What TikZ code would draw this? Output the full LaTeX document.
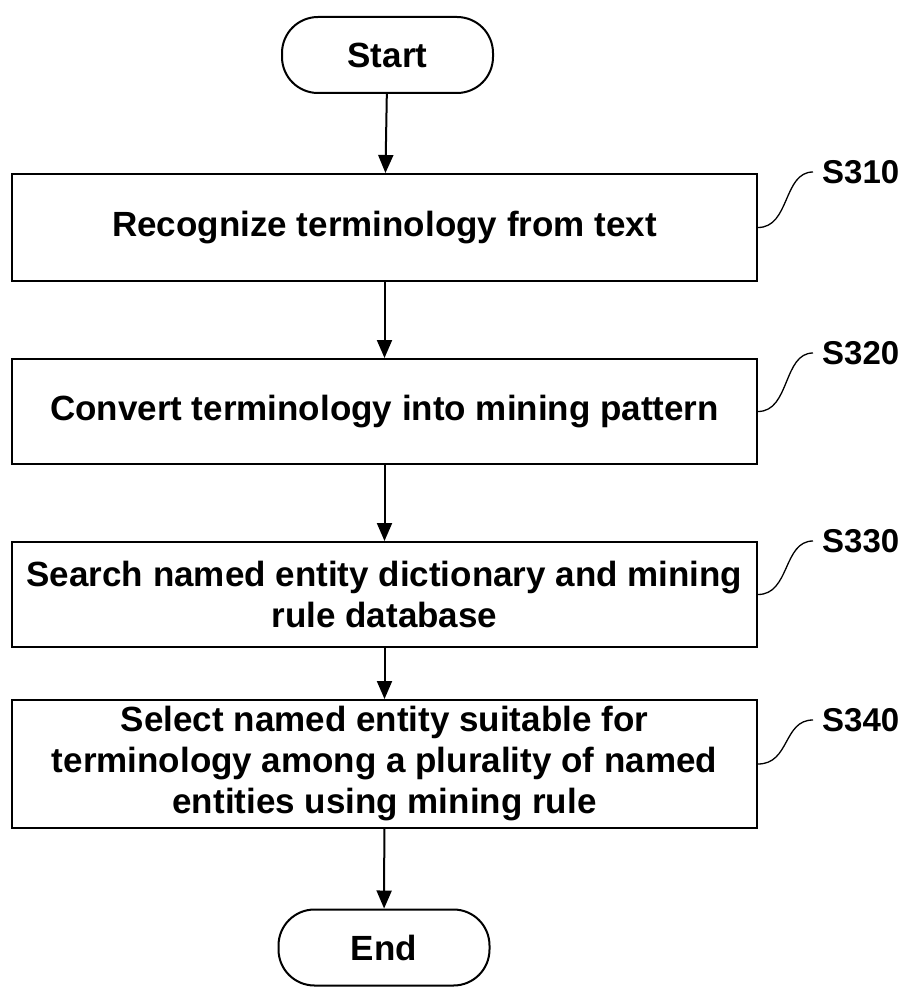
\documentclass[tikz,border=0pt]{standalone}
\usepackage{fontspec}
\setmainfont{Liberation Sans}
\usetikzlibrary{arrows.meta}
\begin{document}
\begin{tikzpicture}[x=1pt,y=-1pt,
  box/.style={draw, line width=2pt, minimum width=745pt, inner sep=0pt, align=center,
    font=\fontsize{35}{41}\selectfont\bfseries},
  term/.style={draw, line width=2pt, rounded corners=36pt, minimum width=211pt,
    minimum height=76pt, inner sep=0pt, font=\fontsize{35}{41}\selectfont\bfseries},
  arr/.style={-{Triangle[length=18pt,width=15pt]}, line width=2pt},
  lbl/.style={font=\fontsize{33}{40}\selectfont\bfseries, anchor=west, inner sep=0pt},
  sq/.style={line width=1.3pt}]
\useasboundingbox (0,0) rectangle (909,987);
\node[term] (start) at (387.5,55) {Start};
\node[box, minimum height=107pt] (s310) at (384.5,227.5) {Recognize terminology from text};
\node[box, minimum height=105pt] (s320) at (384.5,411.5) {Convert terminology into mining pattern};
\node[box, minimum height=105pt] (s330) at (384.5,594.5) {Search named entity dictionary and mining\\rule database};
\node[box, minimum height=128pt] (s340) at (384.5,764) {Select named entity suitable for\\terminology among a plurality of named\\entities using mining rule};
\node[term] (end) at (384,947.5) {End};
\node[lbl] (l310) at (822,172) {S310};
\node[lbl] (l320) at (822,353) {S320};
\node[lbl] (l330) at (822,541) {S330};
\node[lbl] (l340) at (822,720) {S340};
\draw[arr] (start) -- (s310);
\draw[arr] (s310) -- (s320);
\draw[arr] (s320) -- (s330);
\draw[arr] (s330) -- (s340);
\draw[arr] (s340) -- (end);
\foreach \b/\l in {s310/l310, s320/l320, s330/l330, s340/l340}{
  \draw[sq] (\b.east) .. controls +(32,0) and +(-30,0) .. ([xshift=-9pt]\l.west);
}
\end{tikzpicture}
\end{document}
